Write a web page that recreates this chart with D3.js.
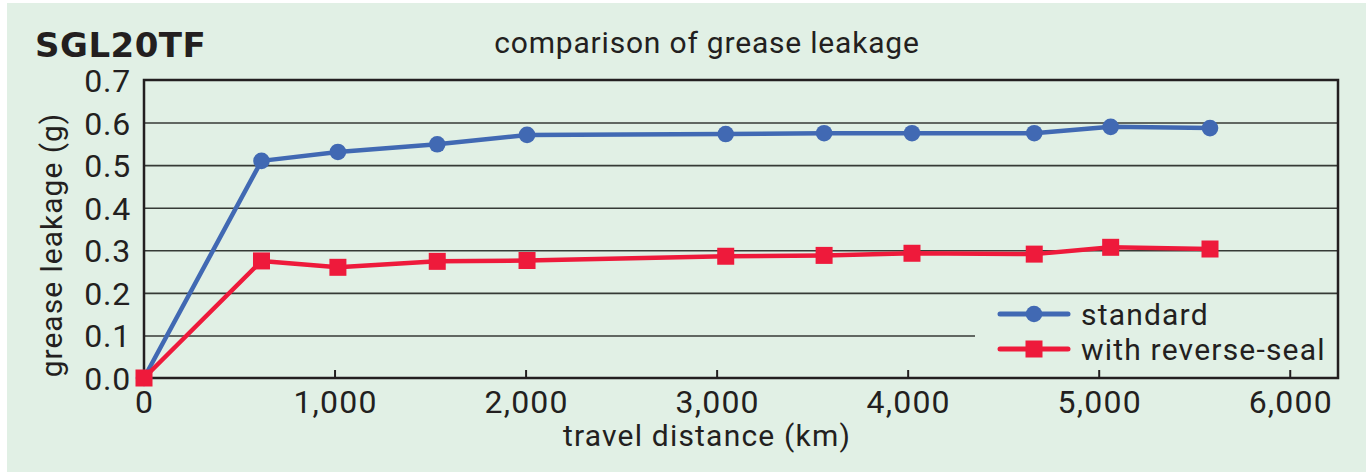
<!DOCTYPE html>
<html>
<head>
<meta charset="utf-8">
<script src="https://cdn.jsdelivr.net/npm/d3@7"></script>
<style>
  body { margin: 0; background: #ffffff; }
  svg text { font-family: Roboto, "Liberation Sans", sans-serif; fill: #231f20; }
  svg text.title { font-family: "DejaVu Sans", sans-serif; font-weight: bold; }
</style>
</head>
<body>
<div id="chart"></div>
<script>
// travel distance (km) at each measurement
const distances = [0, 615, 1015, 1535, 2005, 3045, 3560, 4020, 4660, 5060, 5580];
// grease leakage (g)
const standard = [0, 0.510, 0.531, 0.549, 0.571, 0.573, 0.575, 0.575, 0.575, 0.590, 0.587];
const reverseSeal = [0, 0.275, 0.260, 0.274, 0.276, 0.286, 0.288, 0.293, 0.291, 0.307, 0.303];
const xTicks = [0, 1000, 2000, 3000, 4000, 5000, 6000];
const yTicks = [0, 0.1, 0.2, 0.3, 0.4, 0.5, 0.6, 0.7];
const seriesNames = ["standard", "with reverse-seal"];

const width = 1366, height = 472;
const margin = { left: 144, right: 28, top: 80, bottom: 94 };

const svg = d3.select("#chart")
  .append("svg")
  .attr("width", width)
  .attr("height", height);

svg.append("rect")
  .attr("x", 7).attr("y", 3)
  .attr("width", width - 7).attr("height", height - 3)
  .attr("fill", "#e1f0e5");

const x = d3.scaleLinear()
  .domain([0, 6250])
  .range([margin.left, width - margin.right]);

const y = d3.scaleLinear()
  .domain([0, 0.7])
  .range([height - margin.bottom, margin.top]);

// horizontal grid lines
svg.append("g")
  .attr("transform", `translate(${margin.left},0)`)
  .call(d3.axisLeft(y).tickValues(yTicks.slice(1, -1)).tickSize(-(x.range()[1] - margin.left)).tickFormat(""))
  .call(g => g.select(".domain").remove())
  .call(g => g.selectAll("line").attr("stroke", "#363a36").attr("stroke-width", 1.6));

// legend box hides part of the 0.1 grid line
svg.append("rect")
  .attr("x", 975).attr("y", 300)
  .attr("width", x.range()[1] - 975).attr("height", 76)
  .attr("fill", "#e1f0e5");

// frame
svg.append("rect")
  .attr("x", margin.left).attr("y", margin.top)
  .attr("width", x.range()[1] - margin.left)
  .attr("height", y(0) - margin.top)
  .attr("fill", "none")
  .attr("stroke", "#231f20")
  .attr("stroke-width", 2.5);

// x axis: inward ticks + labels
svg.append("g")
  .attr("transform", `translate(0,${y(0)})`)
  .call(d3.axisBottom(x).tickValues(xTicks).tickSize(0).tickPadding(12).tickFormat(d3.format(",")))
  .call(g => g.select(".domain").remove())
  .call(g => g.selectAll("text").attr("font-size", 32).attr("letter-spacing", 1.2).attr("dy", "0.71em"));

svg.append("g")
  .selectAll("line")
  .data(xTicks.slice(1))
  .join("line")
  .attr("x1", d => x(d)).attr("x2", d => x(d))
  .attr("y1", y(0)).attr("y2", y(0) - 8)
  .attr("stroke", "#231f20")
  .attr("stroke-width", 2);

// y axis labels
svg.append("g")
  .attr("transform", `translate(${margin.left},0)`)
  .call(d3.axisLeft(y).tickValues(yTicks).tickSize(0).tickPadding(13).tickFormat(d3.format(".1f")))
  .call(g => g.select(".domain").remove())
  .call(g => g.selectAll("text").attr("font-size", 32).attr("letter-spacing", 0.8).attr("dy", "0.36em"));

// titles
svg.append("text")
  .attr("class", "title")
  .attr("x", 35).attr("y", 57)
  .attr("font-size", 34)
  .attr("letter-spacing", 0.5)
  .text("SGL20TF");

svg.append("text")
  .attr("x", 707).attr("y", 53)
  .attr("text-anchor", "middle")
  .attr("font-size", 30)
  .attr("letter-spacing", 0.8)
  .text("comparison of grease leakage");

svg.append("text")
  .attr("x", 707).attr("y", 446)
  .attr("text-anchor", "middle")
  .attr("font-size", 30)
  .attr("letter-spacing", 1.2)
  .text("travel distance (km)");

svg.append("text")
  .attr("transform", "translate(62,245) rotate(-90)")
  .attr("text-anchor", "middle")
  .attr("font-size", 30)
  .attr("letter-spacing", 1)
  .text("grease leakage (g)");

// series
const blue = "#4169b3", red = "#ee1a3b";
const line = d3.line().x(d => x(d[0])).y(d => y(d[1]));
const blueData = distances.map((d, i) => [d, standard[i]]);
const redData = distances.map((d, i) => [d, reverseSeal[i]]);

svg.append("path")
  .datum(blueData)
  .attr("d", line)
  .attr("fill", "none")
  .attr("stroke", blue)
  .attr("stroke-width", 4.5)
  .attr("stroke-linejoin", "round");

svg.append("g")
  .selectAll("circle")
  .data(blueData)
  .join("circle")
  .attr("cx", d => x(d[0]))
  .attr("cy", d => y(d[1]))
  .attr("r", 8.3)
  .attr("fill", blue);

svg.append("path")
  .datum(redData)
  .attr("d", line)
  .attr("fill", "none")
  .attr("stroke", red)
  .attr("stroke-width", 4.5)
  .attr("stroke-linejoin", "round");

const sq = 17;
svg.append("g")
  .selectAll("rect")
  .data(redData)
  .join("rect")
  .attr("x", d => x(d[0]) - sq / 2)
  .attr("y", d => y(d[1]) - sq / 2)
  .attr("width", sq)
  .attr("height", sq)
  .attr("fill", red);

// legend
const legend = svg.append("g");
const legendRows = [
  { name: seriesNames[0], color: blue, shape: "circle", cy: 314 },
  { name: seriesNames[1], color: red, shape: "square", cy: 349 }
];
legendRows.forEach(r => {
  legend.append("line")
    .attr("x1", 1000).attr("x2", 1068)
    .attr("y1", r.cy).attr("y2", r.cy)
    .attr("stroke", r.color)
    .attr("stroke-width", 5)
    .attr("stroke-linecap", "round");
  if (r.shape === "circle") {
    legend.append("circle")
      .attr("cx", 1034).attr("cy", r.cy).attr("r", 8.3)
      .attr("fill", r.color);
  } else {
    legend.append("rect")
      .attr("x", 1034 - sq / 2).attr("y", r.cy - sq / 2)
      .attr("width", sq).attr("height", sq)
      .attr("fill", r.color);
  }
  legend.append("text")
    .attr("x", 1081).attr("y", r.cy + 11)
    .attr("font-size", 30)
    .attr("letter-spacing", 1.2)
    .text(r.name);
});
</script>
</body>
</html>
